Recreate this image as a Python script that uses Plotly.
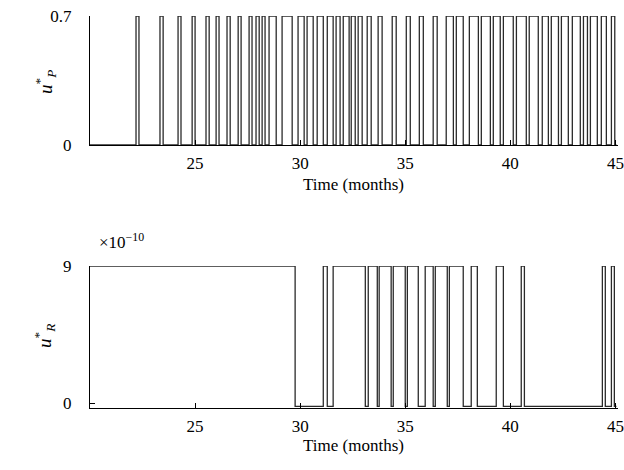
import plotly.graph_objects as go

# ---- data (months) ----
# u_P*: switching times (on, off) of bang-bang pulses, high value 0.7
UP_HIGH = 0.7
UP_LOW = 0.0
up_on = [22.19, 23.33, 24.19, 24.86, 25.52, 26.00, 26.52, 27.05, 27.57, 27.90,
         28.19, 28.52, 29.14, 29.90, 30.33, 30.81, 31.29, 31.71, 32.05, 32.43,
         32.76, 33.19, 33.71, 34.38, 35.05, 35.67, 36.33, 36.95, 37.43, 38.05,
         38.62, 39.19, 39.67, 40.29, 40.90, 41.52, 41.95, 42.43, 42.95, 43.48,
         43.81, 44.33, 44.81]
up_off = [22.33, 23.48, 24.33, 25.00, 25.67, 26.14, 26.67, 27.19, 27.71, 28.05,
          28.33, 28.86, 29.62, 30.19, 30.62, 31.10, 31.57, 31.90, 32.33, 32.62,
          32.95, 33.38, 33.90, 34.57, 35.24, 35.86, 36.52, 37.29, 37.76, 38.48,
          39.05, 39.52, 40.14, 40.76, 41.33, 41.81, 42.29, 42.76, 43.33, 43.67,
          44.14, 44.57, 44.97]

# u_R*: values in units of 1e-10
UR_HIGH = 9.0
UR_LOW = -0.2
ur_initial_off = 29.76
ur_on = [31.10, 31.57, 33.24, 33.76, 34.43, 35.10, 35.95, 36.43, 37.10, 38.14,
         39.33, 40.52, 44.38, 44.81]
ur_off = [31.29, 33.10, 33.67, 34.33, 35.00, 35.62, 36.33, 37.00, 37.76, 38.43,
          39.67, 40.67, 44.52, 44.95]

T_START = 20.0
T_END = 45.05
x_ticks = [25, 30, 35, 40, 45]


def step_series(start_val, first_off, ons, offs, high, low):
    xs, ys = [T_START], [start_val]
    if first_off is not None:
        xs.append(first_off); ys.append(low)
    for a, b in zip(ons, offs):
        xs += [a, b]
        ys += [high, low]
    xs.append(T_END); ys.append(low)
    return xs, ys


px_, py_ = step_series(UP_LOW, None, up_on, up_off, UP_HIGH, UP_LOW)
rx_, ry_ = step_series(UR_HIGH, ur_initial_off, ur_on, ur_off, UR_HIGH, UR_LOW)

FONT = "Liberation Serif"
LINE = "#2a2a2a"

fig = go.Figure()
fig.add_trace(go.Scatter(x=px_, y=py_, mode="lines", line=dict(shape="hv", color=LINE, width=1.3),
                         xaxis="x", yaxis="y", showlegend=False, hoverinfo="skip"))
fig.add_trace(go.Scatter(x=rx_, y=ry_, mode="lines", line=dict(shape="hv", color=LINE, width=1.3),
                         xaxis="x2", yaxis="y2", showlegend=False, hoverinfo="skip"))

W, H = 624, 470
xdom = [90 / W, 617.5 / W]
tickfont = dict(family=FONT, size=17, color="black", weight=400)
common_x = dict(range=[20, 45.1], tickvals=x_ticks, ticks="inside", ticklen=5, tickcolor="black",
                showline=True, linecolor="black", linewidth=1, showgrid=False, zeroline=False,
                tickfont=tickfont, ticklabelstandoff=3, automargin=False)
common_y = dict(ticks="inside", ticklen=5, tickcolor="black", showline=True, linecolor="black",
                linewidth=1, showgrid=False, zeroline=False,
                tickfont=tickfont, ticklabelstandoff=14, automargin=False)

tfont = dict(family=FONT, size=17, color="black", weight=400)
yfont = dict(family=FONT, size=19, color="black", weight=400)


def ann(text, xpx, ypx, font, **kw):
    d = dict(text=text, x=xpx / W, y=(H - ypx) / H, xref="paper", yref="paper",
             showarrow=False, font=font, xanchor="center", yanchor="middle")
    d.update(kw)
    return d


fig.update_layout(
    width=W, height=H, margin=dict(l=0, r=0, t=0, b=0, autoexpand=False),
    paper_bgcolor="white", plot_bgcolor="white",
    xaxis=dict(domain=xdom, anchor="y", **common_x),
    yaxis=dict(domain=[(H - 145) / H, (H - 16) / H], range=[0, 0.7], tickvals=[0, 0.7],
               ticktext=["0", "0.7"], anchor="x", **common_y),
    xaxis2=dict(domain=xdom, anchor="y2", **common_x),
    yaxis2=dict(domain=[(H - 408) / H, (H - 266) / H], range=[-0.31, 9], tickvals=[0, 9],
                ticktext=["0", "9"], anchor="x2", **common_y),
    annotations=[
        ann("Time (months)", 353, 185, tfont),
        ann("Time (months)", 353, 445, tfont),
        ann("<i>u</i><sup>*</sup><sub><i>P</i></sub>", 45, 82, yfont, textangle=-90),
        ann("<i>u</i><sup>*</sup><sub><i>R</i></sub>", 45, 336, yfont, textangle=-90),
        ann("×10<sup>−10</sup>", 97, 241, tfont, xanchor="left"),
    ],
)

fig.write_html("out.html")
